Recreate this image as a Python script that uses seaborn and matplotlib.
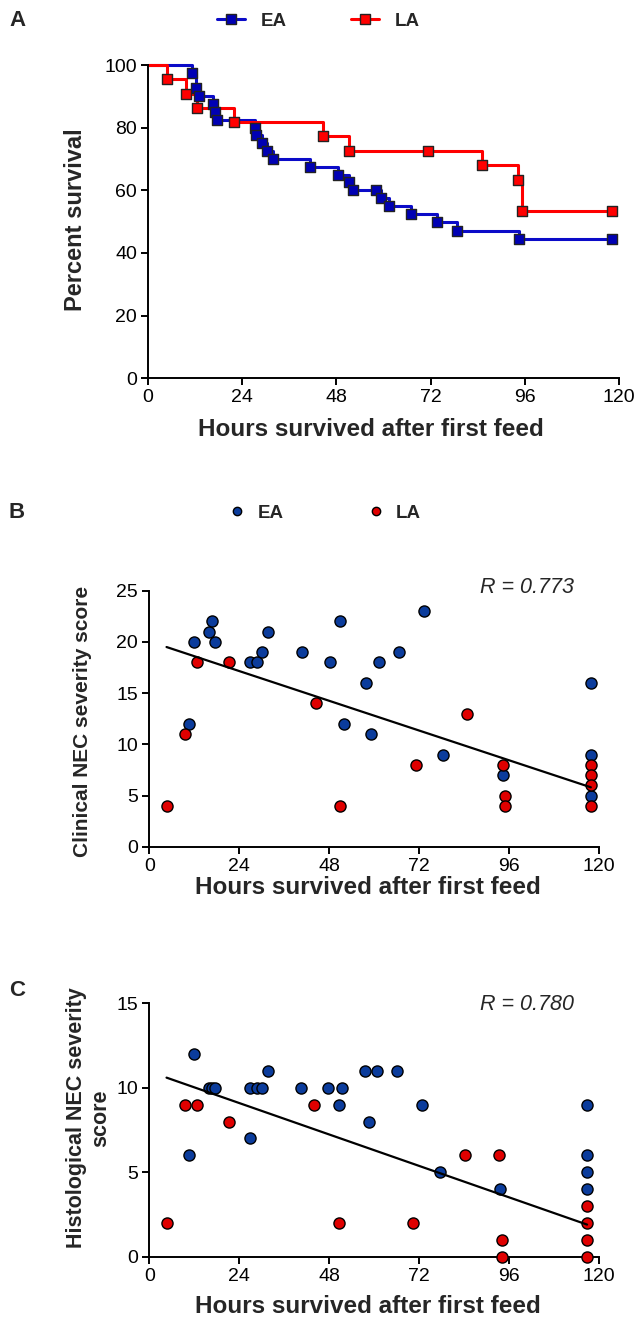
import matplotlib
matplotlib.use('Agg')
import matplotlib.pyplot as plt
from matplotlib.lines import Line2D
import seaborn as sns
import pandas as pd

sns.set_theme(style='ticks')
plt.rcParams['font.family'] = ['Liberation Sans', 'DejaVu Sans']

# ---------------- Panel A: Kaplan-Meier survival ----------------
ea_km_time = [11.1, 12.2, 13.1, 16.5, 17.1, 17.7, 27.3, 27.4, 29.0, 30.2, 31.9,
              41.3, 48.3, 51.2, 52.2, 58.1, 59.3, 61.5, 66.9, 73.6, 78.6, 94.6, 118.1]
ea_km_surv = [97.5, 92.5, 90.0, 87.5, 85.0, 82.5, 80.0, 77.5, 75.0, 72.5, 70.0,
              67.5, 65.0, 62.5, 60.0, 60.0, 57.5, 55.0, 52.5, 50.0, 47.0, 44.5, 44.5]
la_km_time = [4.9, 9.6, 12.6, 21.8, 44.5, 51.2, 71.3, 85.2, 94.3, 95.2, 118.1]
la_km_surv = [95.5, 90.9, 86.4, 81.8, 77.3, 72.7, 72.7, 68.2, 63.4, 53.4, 53.4]

# ---------------- Panel B: clinical NEC score ----------------
ea_b_hours = [10.7, 12.0, 16.0, 16.7, 17.5, 26.9, 28.7, 30.1, 31.7, 40.9, 48.2, 50.9,
              52.0, 57.9, 59.2, 61.3, 66.8, 73.4, 78.4, 94.5, 117.9, 117.9, 117.9]
ea_b_score = [12, 20, 21, 22, 20, 18, 18, 19, 21, 19, 18, 22,
              12, 16, 11, 18, 19, 23, 9, 7, 16, 9, 5]
la_b_hours = [4.8, 9.4, 12.8, 21.4, 44.5, 50.9, 71.3, 84.9, 94.4, 95.0, 95.0,
              117.9, 117.9, 117.9, 117.9]
la_b_score = [4, 11, 18, 18, 14, 4, 8, 13, 8, 5, 4, 8, 7, 6, 4]
fit_b_hours = [4.6, 117.9]
fit_b_score = [19.5, 5.8]

# ---------------- Panel C: histological NEC score ----------------
ea_c_hours = [10.7, 12.0, 16.0, 16.7, 17.5, 26.9, 26.9, 28.7, 30.1, 31.7, 40.6, 47.8,
              50.6, 51.4, 57.6, 58.7, 60.9, 66.1, 72.8, 77.7, 93.6,
              116.9, 116.9, 116.9, 116.9]
ea_c_score = [6, 12, 10, 10, 10, 7, 10, 10, 10, 11, 10, 10,
              9, 10, 11, 8, 11, 11, 9, 5, 4, 9, 6, 5, 4]
la_c_hours = [4.8, 9.4, 12.8, 21.4, 44.0, 50.6, 70.5, 84.2, 93.4, 94.2, 94.2,
              116.9, 116.9, 116.9, 116.9]
la_c_score = [2, 9, 9, 8, 9, 2, 2, 6, 6, 1, 0, 3, 2, 1, 0]
fit_c_hours = [4.6, 116.9]
fit_c_score = [10.6, 1.9]

x_ticks = [0, 24, 48, 72, 96, 120]
xlabel = 'Hours survived after first feed'
r_b_text = 'R = 0.773'
r_c_text = 'R = 0.780'

KM_BLUE_LINE = '#0B0BC8'
KM_BLUE_FILL = '#0000B4'
KM_RED = '#FF0000'
PT_BLUE = '#0B3C9C'
PT_RED = '#E00000'

XLABEL_FS = 17.5
TICK_FS = 14
LEG_FS = 13.5

W, H = 640, 1328
fig = plt.figure(figsize=(W / 100, H / 100), dpi=100)


def px_axes(left, right, top, bottom):
    return fig.add_axes([left / W, 1 - bottom / H, (right - left) / W, (bottom - top) / H])


def style_axes(ax):
    sns.despine(ax=ax)
    for s in ['left', 'bottom']:
        ax.spines[s].set_linewidth(1.4)
        ax.spines[s].set_color('black')
    ax.tick_params(direction='out', length=5, width=1.4, labelsize=TICK_FS, colors='black', pad=3)
    ax.set_xlim(0, 120)
    ax.set_xticks(x_ticks)
    ax.grid(False)


# ---- Panel A ----
axA = px_axes(148, 619, 65, 378.3)
for t, s, lc, fc in [(ea_km_time, ea_km_surv, KM_BLUE_LINE, KM_BLUE_FILL),
                     (la_km_time, la_km_surv, KM_RED, KM_RED)]:
    df_line = pd.DataFrame({'t': [0] + t, 's': [100] + s})
    sns.lineplot(data=df_line, x='t', y='s', ax=axA, drawstyle='steps-post', estimator=None,
                 sort=False, color=lc, linewidth=2.2, legend=False, clip_on=False)
    sns.scatterplot(x=t, y=s, ax=axA, marker='s', s=50, color=fc, edgecolor='#222222',
                    linewidth=1.0, clip_on=False, zorder=4, legend=False)
style_axes(axA)
axA.set_ylim(0, 100)
axA.set_yticks([0, 20, 40, 60, 80, 100])
axA.set_xlabel(xlabel, fontsize=XLABEL_FS, fontweight='bold')
axA.set_ylabel('Percent survival', fontsize=17, fontweight='bold')
axA.xaxis.set_label_coords(0.4735, -0.127)
axA.yaxis.set_label_coords(-0.13, 0.505)

handlesA = [Line2D([], [], color=KM_BLUE_LINE, lw=2.2, marker='s', markersize=7,
                   markerfacecolor=KM_BLUE_FILL, markeredgecolor='#222222'),
            Line2D([], [], color=KM_RED, lw=2.2, marker='s', markersize=7,
                   markerfacecolor=KM_RED, markeredgecolor='#222222')]
fig.legend(handlesA, ['EA', 'LA'], loc='center', bbox_to_anchor=(318.5 / W, 1 - 21 / H),
           ncol=2, frameon=False, prop={'weight': 'bold', 'size': LEG_FS},
           handlelength=1.5, handletextpad=0.85, columnspacing=3.4, borderaxespad=0,
           borderpad=0)

# ---- Panel B ----
axB = px_axes(149.3, 598.7, 590.7, 846.7)
for hx, sc, col in [(ea_b_hours, ea_b_score, PT_BLUE), (la_b_hours, la_b_score, PT_RED)]:
    sns.scatterplot(x=hx, y=sc, ax=axB, s=64, color=col, edgecolor='black', linewidth=1.0,
                    clip_on=False, zorder=4, legend=False)
sns.lineplot(x=fit_b_hours, y=fit_b_score, ax=axB, color='black', linewidth=1.6,
             estimator=None, zorder=5, legend=False)
style_axes(axB)
axB.set_ylim(0, 25)
axB.set_yticks([0, 5, 10, 15, 20, 25])
axB.set_xlabel(xlabel, fontsize=XLABEL_FS, fontweight='bold')
axB.set_ylabel('Clinical NEC severity score', fontsize=15, fontweight='bold')
axB.xaxis.set_label_coords(0.487, -0.113)
axB.yaxis.set_label_coords(-0.127, 0.49)
axB.text(527 / W, 1 - 588 / H, r_b_text, transform=fig.transFigure, ha='center', va='center',
         fontsize=15.5, fontstyle='italic')

handlesB = [Line2D([], [], ls='none', marker='o', markersize=6, markerfacecolor=PT_BLUE,
                   markeredgecolor='black'),
            Line2D([], [], ls='none', marker='o', markersize=6, markerfacecolor=PT_RED,
                   markeredgecolor='black')]
fig.legend(handlesB, ['EA', 'LA'], loc='center', bbox_to_anchor=(324.5 / W, 1 - 513 / H),
           ncol=2, frameon=False, prop={'weight': 'bold', 'size': LEG_FS},
           handlelength=1.0, handletextpad=0.57, columnspacing=4.45, borderaxespad=0,
           borderpad=0)

# ---- Panel C ----
axC = px_axes(149.3, 598.7, 1003.3, 1256.7)
for hx, sc, col in [(ea_c_hours, ea_c_score, PT_BLUE), (la_c_hours, la_c_score, PT_RED)]:
    sns.scatterplot(x=hx, y=sc, ax=axC, s=64, color=col, edgecolor='black', linewidth=1.0,
                    clip_on=False, zorder=4, legend=False)
sns.lineplot(x=fit_c_hours, y=fit_c_score, ax=axC, color='black', linewidth=1.6,
             estimator=None, zorder=5, legend=False)
style_axes(axC)
axC.set_ylim(0, 15)
axC.set_yticks([0, 5, 10, 15])
axC.set_xlabel(xlabel, fontsize=XLABEL_FS, fontweight='bold')
axC.set_ylabel('Histological NEC severity\nscore', fontsize=15.5, fontweight='bold',
               linespacing=1.2)
axC.xaxis.set_label_coords(0.487, -0.151)
axC.yaxis.set_label_coords(-0.085, 0.547)
axC.text(527 / W, 1 - 1005 / H, r_c_text, transform=fig.transFigure, ha='center', va='center',
         fontsize=15.5, fontstyle='italic')

# panel letters
for letter, y in [('A', 21), ('B', 512), ('C', 990)]:
    fig.text(17 / W, 1 - y / H, letter, ha='center', va='center', fontsize=16,
             fontweight='bold')

fig.savefig('out.png', dpi=100)
